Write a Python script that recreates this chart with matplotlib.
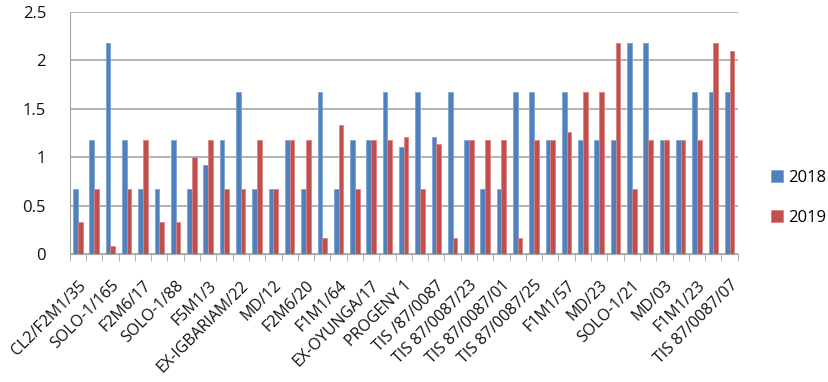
import matplotlib.pyplot as plt
import numpy as np

# ===== Data =====
# only every other category is labelled in the original chart
categories = [
    "CL2/F2M1/35", "", "SOLO-1/165", "", "F2M6/17", "", "SOLO-1/88", "",
    "F5M1/3", "", "EX-IGBARIAM/22", "", "MD/12", "", "F2M6/20", "",
    "F1M1/64", "", "EX-OYUNGA/17", "", "PROGENY 1", "", "TIS /87/0087", "",
    "TIS 87/0087/23", "", "TIS 87/0087/01", "", "TIS 87/0087/25", "",
    "F1M1/57", "", "MD/23", "", "SOLO-1/21", "", "MD/03", "", "F1M1/23", "",
    "TIS 87/0087/07",
]

values_2018 = [0.67, 1.18, 2.18, 1.18, 0.67, 0.67, 1.18, 0.67, 0.92, 1.18,
               1.67, 0.67, 0.67, 1.18, 0.67, 1.67, 0.67, 1.18, 1.18, 1.67,
               1.10, 1.67, 1.21, 1.67, 1.18, 0.67, 0.67, 1.67, 1.67, 1.18,
               1.67, 1.18, 1.18, 1.18, 2.18, 2.18, 1.18, 1.18, 1.67, 1.67,
               1.67]
values_2019 = [0.33, 0.67, 0.08, 0.67, 1.18, 0.33, 0.33, 1.00, 1.18, 0.67,
               0.67, 1.18, 0.67, 1.18, 1.18, 0.17, 1.33, 0.67, 1.18, 1.18,
               1.21, 0.67, 1.14, 0.17, 1.18, 1.18, 1.18, 0.17, 1.18, 1.18,
               1.26, 1.67, 1.67, 2.18, 0.67, 1.18, 1.18, 1.18, 1.18, 2.18,
               2.09]

# ===== Plot =====
plt.rcParams['font.family'] = ['Open Sans', 'DejaVu Sans']
FS = 12

fig = plt.figure(figsize=(8.29, 3.82), dpi=100)
ax = fig.add_axes([69.7 / 829, 1 - 254 / 382, (737.7 - 69.7) / 829, (254 - 11.7) / 382])

x = np.arange(len(categories))
w = 0.29
ax.bar(x - w / 2, values_2018, w, color='#4F81BD', edgecolor='#7EA3D3', linewidth=0.6, label='2018', zorder=3)
ax.bar(x + w / 2, values_2019, w, color='#C0504D', edgecolor='#D98583', linewidth=0.6, label='2019', zorder=3)

ax.set_xlim(-0.5, len(categories) - 0.5)
ax.set_ylim(0, 2.5)
ax.set_yticks(np.arange(0, 2.51, 0.5))
ax.set_yticklabels(['0', '0.5', '1', '1.5', '2', '2.5'])
ax.grid(axis='y', color='#A6A6A6', linewidth=1.2, zorder=0)

ax.set_xticks(x)
ax.set_xticklabels(categories, rotation=45, ha='right', rotation_mode='anchor')
ax.set_xticks(np.arange(-0.5, len(categories), 1), minor=True)
ax.tick_params(axis='x', which='major', length=0, pad=17, labelsize=11.5, labelcolor='#111111')
ax.tick_params(axis='x', which='minor', length=5, color='#A6A6A6')
ax.tick_params(axis='y', length=0, pad=17, labelsize=FS, labelcolor='#111111')

for s in ['top', 'right']:
    ax.spines[s].set_visible(False)
ax.spines['left'].set_color('#A6A6A6')
ax.spines['bottom'].set_color('#A6A6A6')

fig.legend(loc='center left', bbox_to_anchor=(771 / 829, 1 - 198 / 382), frameon=False,
           fontsize=FS, handlelength=0.75, handleheight=0.75, labelspacing=1.45,
           handletextpad=0.3, borderpad=0, borderaxespad=0)

fig.savefig('out.png', dpi=100)
